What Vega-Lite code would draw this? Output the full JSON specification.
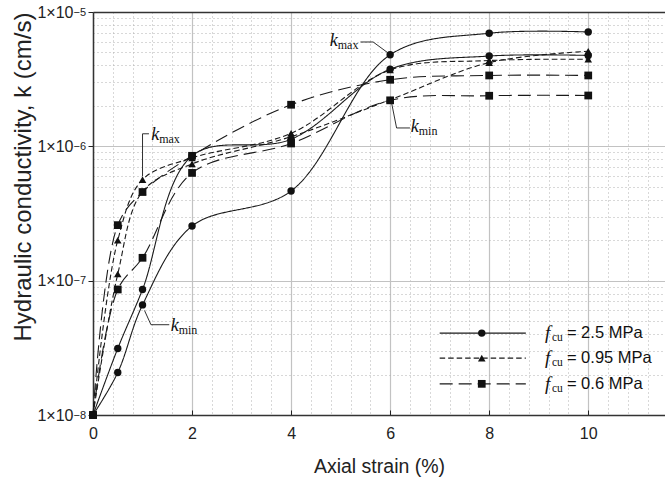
{
  "$schema": "https://vega.github.io/schema/vega-lite/v6.json",
  "width": 572,
  "height": 403,
  "autosize": {"type": "none"},
  "padding": {"left": 93, "top": 12, "right": 0, "bottom": 66},
  "background": "white",
  "config": {"view": {"stroke": null}, "font": "Liberation Sans"},
  "datasets": {
    "curves": [
      {"series": "2.5", "curve": "2.5a", "strain": 0, "k": 1e-8},
      {"series": "2.5", "curve": "2.5a", "strain": 0.5, "k": 2.07e-8},
      {"series": "2.5", "curve": "2.5a", "strain": 1, "k": 6.6e-8},
      {"series": "2.5", "curve": "2.5a", "strain": 2, "k": 2.55e-7},
      {"series": "2.5", "curve": "2.5a", "strain": 4, "k": 4.65e-7},
      {"series": "2.5", "curve": "2.5a", "strain": 6, "k": 4.8e-6},
      {"series": "2.5", "curve": "2.5a", "strain": 8, "k": 6.95e-6},
      {"series": "2.5", "curve": "2.5a", "strain": 10, "k": 7.1e-6},
      {"series": "2.5", "curve": "2.5b", "strain": 0, "k": 1e-8},
      {"series": "2.5", "curve": "2.5b", "strain": 0.5, "k": 3.13e-8},
      {"series": "2.5", "curve": "2.5b", "strain": 1, "k": 8.6e-8},
      {"series": "2.5", "curve": "2.5b", "strain": 2, "k": 8.5e-7},
      {"series": "2.5", "curve": "2.5b", "strain": 4, "k": 1.13e-6},
      {"series": "2.5", "curve": "2.5b", "strain": 6, "k": 3.75e-6},
      {"series": "2.5", "curve": "2.5b", "strain": 8, "k": 4.7e-6},
      {"series": "2.5", "curve": "2.5b", "strain": 10, "k": 4.75e-6},
      {"series": "0.95", "curve": "0.95a", "strain": 0, "k": 1e-8},
      {"series": "0.95", "curve": "0.95a", "strain": 0.5, "k": 2.0e-7},
      {"series": "0.95", "curve": "0.95a", "strain": 1, "k": 5.65e-7},
      {"series": "0.95", "curve": "0.95a", "strain": 2, "k": 8.2e-7},
      {"series": "0.95", "curve": "0.95a", "strain": 4, "k": 1.25e-6},
      {"series": "0.95", "curve": "0.95a", "strain": 6, "k": 3.7e-6},
      {"series": "0.95", "curve": "0.95a", "strain": 8, "k": 4.35e-6},
      {"series": "0.95", "curve": "0.95a", "strain": 10, "k": 4.45e-6},
      {"series": "0.95", "curve": "0.95b", "strain": 0, "k": 1e-8},
      {"series": "0.95", "curve": "0.95b", "strain": 0.5, "k": 1.12e-7},
      {"series": "0.95", "curve": "0.95b", "strain": 1, "k": 4.6e-7},
      {"series": "0.95", "curve": "0.95b", "strain": 2, "k": 7.4e-7},
      {"series": "0.95", "curve": "0.95b", "strain": 4, "k": 1.18e-6},
      {"series": "0.95", "curve": "0.95b", "strain": 6, "k": 2.22e-6},
      {"series": "0.95", "curve": "0.95b", "strain": 8, "k": 4.2e-6},
      {"series": "0.95", "curve": "0.95b", "strain": 10, "k": 5.1e-6},
      {"series": "0.6", "curve": "0.6a", "strain": 0, "k": 1e-8},
      {"series": "0.6", "curve": "0.6a", "strain": 0.5, "k": 2.59e-7},
      {"series": "0.6", "curve": "0.6a", "strain": 1, "k": 4.57e-7},
      {"series": "0.6", "curve": "0.6a", "strain": 2, "k": 8.5e-7},
      {"series": "0.6", "curve": "0.6a", "strain": 4, "k": 2.04e-6},
      {"series": "0.6", "curve": "0.6a", "strain": 6, "k": 3.13e-6},
      {"series": "0.6", "curve": "0.6a", "strain": 8, "k": 3.37e-6},
      {"series": "0.6", "curve": "0.6a", "strain": 10, "k": 3.37e-6},
      {"series": "0.6", "curve": "0.6b", "strain": 0, "k": 1e-8},
      {"series": "0.6", "curve": "0.6b", "strain": 0.5, "k": 8.6e-8},
      {"series": "0.6", "curve": "0.6b", "strain": 1, "k": 1.48e-7},
      {"series": "0.6", "curve": "0.6b", "strain": 2, "k": 6.34e-7},
      {"series": "0.6", "curve": "0.6b", "strain": 4, "k": 1.05e-6},
      {"series": "0.6", "curve": "0.6b", "strain": 6, "k": 2.2e-6},
      {"series": "0.6", "curve": "0.6b", "strain": 8, "k": 2.38e-6},
      {"series": "0.6", "curve": "0.6b", "strain": 10, "k": 2.39e-6}
    ],
    "leaders": [
      {"id": "kmax1", "o": 1, "strain": 1.0, "k": 6.0e-7},
      {"id": "kmax1", "o": 2, "strain": 1.0, "k": 1.24e-6},
      {"id": "kmax1", "o": 3, "strain": 1.13, "k": 1.24e-6},
      {"id": "kmin1", "o": 1, "strain": 1.04, "k": 6.0e-8},
      {"id": "kmin1", "o": 2, "strain": 1.17, "k": 4.7e-8},
      {"id": "kmin1", "o": 3, "strain": 1.54, "k": 4.7e-8},
      {"id": "kmax6", "o": 1, "strain": 5.4, "k": 5.98e-6},
      {"id": "kmax6", "o": 2, "strain": 5.657, "k": 5.98e-6},
      {"id": "kmax6", "o": 3, "strain": 5.96, "k": 4.95e-6},
      {"id": "kmin6", "o": 1, "strain": 6.03, "k": 2.1e-6},
      {"id": "kmin6", "o": 2, "strain": 6.13, "k": 1.37e-6},
      {"id": "kmin6", "o": 3, "strain": 6.4, "k": 1.37e-6}
    ],
    "notes": [
      {"sub": "max", "strain": 1.175, "k": 1.22e-6},
      {"sub": "min", "strain": 1.569, "k": 4.575e-8},
      {"sub": "max", "strain": 4.78, "k": 6.11e-6},
      {"sub": "min", "strain": 6.416, "k": 1.4e-6}
    ],
    "legend": [
      {"series": "2.5", "label": "= 2.5 MPa", "x1": 7.0, "x2": 8.74, "xm": 7.85, "xt": 9.125, "k": 4.07e-8},
      {"series": "0.95", "label": "= 0.95 MPa", "x1": 7.0, "x2": 8.74, "xm": 7.85, "xt": 9.125, "k": 2.65e-8},
      {"series": "0.6", "label": "= 0.6 MPa", "x1": 7.0, "x2": 8.74, "xm": 7.85, "xt": 9.125, "k": 1.706e-8}
    ]
  },
  "layer": [
    {
      "data": {"name": "curves"},
      "mark": {"type": "point", "opacity": 0},
      "encoding": {
        "x": {"field": "strain", "type": "quantitative", "scale": {"domain": [0, 11.55], "nice": false, "zero": false},
          "axis": {"orient": "bottom", "values": [0.4,0.8,1.2,1.6,2.4,2.8,3.2,3.6,4.4,4.8,5.2,5.6,6.4,6.8,7.2,7.6,8.4,8.8,9.2,9.6,10.4,10.8,11.2],
            "grid": true, "gridColor": "#b0b0b0", "gridDash": [1, 3], "gridWidth": 1, "labels": false, "ticks": false, "domain": false, "title": null}},
        "y": {"field": "k", "type": "quantitative", "scale": {"type": "log", "domain": [1e-8, 1e-5], "nice": false},
          "axis": {"orient": "left", "values": [2e-8,3e-8,4e-8,5e-8,6e-8,7e-8,8e-8,9e-8,2e-7,3e-7,4e-7,5e-7,6e-7,7e-7,8e-7,9e-7,2e-6,3e-6,4e-6,5e-6,6e-6,7e-6,8e-6,9e-6],
            "grid": true, "gridColor": "#b0b0b0", "gridDash": [1, 3], "gridWidth": 1, "labels": false, "ticks": false, "domain": false, "title": null}}
      }
    },
    {
      "data": {"name": "curves"},
      "mark": {"type": "point", "opacity": 0},
      "encoding": {
        "x": {"field": "strain", "type": "quantitative", "scale": {"domain": [0, 11.55], "nice": false, "zero": false},
          "axis": {"orient": "bottom", "values": [0, 2, 4, 6, 8, 10], "grid": true, "gridColor": "#c2c2c2", "gridWidth": 1.2,
            "ticks": true, "tickSize": -5, "tickColor": "#222", "domain": true, "domainColor": "#333", "domainWidth": 1.5,
            "labelFontSize": 16, "labelColor": "#222", "labelPadding": 15, "labelFlush": false, "format": "d",
            "title": "Axial strain (%)", "titleFontSize": 19.5, "titleFontWeight": "normal", "titleColor": "#222", "titlePadding": 16}},
        "y": {"field": "k", "type": "quantitative", "scale": {"type": "log", "domain": [1e-8, 1e-5], "nice": false},
          "axis": {"orient": "left", "values": [1e-8, 1e-7, 1e-6, 1e-5], "grid": true, "gridColor": "#c2c2c2", "gridWidth": 1.2,
            "ticks": true, "tickSize": 5, "tickColor": "#222", "domain": true, "domainColor": "#333", "domainWidth": 1.5,
            "labelExpr": "'1×10'", "labelFontSize": 16, "labelColor": "#222", "labelPadding": 15, "labelFlush": false,
            "title": "Hydraulic conductivity, k (cm/s)", "titleFontSize": 24, "titleFontWeight": "normal", "titleColor": "#222",
            "titlePadding": 1, "titleAnchor": "end"}}
      }
    },
    {
      "data": {"name": "curves"},
      "mark": {"type": "point", "opacity": 0},
      "encoding": {
        "x": {"field": "strain", "type": "quantitative", "scale": {"domain": [0, 11.55], "nice": false, "zero": false},
          "axis": {"orient": "top", "grid": false, "ticks": false, "labels": false, "domain": true, "domainColor": "#333", "domainWidth": 1.5, "title": null}},
        "y": {"field": "k", "type": "quantitative", "scale": {"type": "log", "domain": [1e-8, 1e-5], "nice": false},
          "axis": {"orient": "left", "values": [1e-8, 1e-7, 1e-6, 1e-5], "grid": false, "ticks": false, "domain": false,
            "labelExpr": "datum.value < 2e-8 ? '−8' : datum.value < 2e-7 ? '−7' : datum.value < 2e-6 ? '−6' : '−5'",
            "labelAlign": "left", "labelFontSize": 11, "labelColor": "#222", "labelPadding": 20, "labelDy": -6, "labelFlush": false, "title": null}}
      }
    },
    {
      "data": {"name": "curves"},
      "mark": {"type": "line", "interpolate": "catmull-rom", "stroke": "#1a1a1a", "strokeWidth": 1.1},
      "encoding": {
        "x": {"field": "strain", "type": "quantitative", "axis": null},
        "y": {"field": "k", "type": "quantitative", "axis": null},
        "detail": {"field": "curve"},
        "strokeDash": {"field": "series", "type": "nominal", "legend": null,
          "scale": {"domain": ["2.5", "0.95", "0.6"], "range": [[1, 0], [5.5, 3], [13, 6]]}}
      }
    },
    {
      "data": {"name": "curves"},
      "mark": {"type": "point", "filled": true, "color": "#111", "opacity": 1, "strokeWidth": 0},
      "encoding": {
        "x": {"field": "strain", "type": "quantitative", "axis": null},
        "y": {"field": "k", "type": "quantitative", "axis": null},
        "shape": {"field": "series", "type": "nominal", "legend": null,
          "scale": {"domain": ["2.5", "0.95", "0.6"], "range": ["circle", "triangle-up", "square"]}},
        "size": {"field": "series", "type": "nominal", "legend": null,
          "scale": {"domain": ["2.5", "0.95", "0.6"], "range": [55, 60, 60]}}
      }
    },
    {
      "data": {"name": "leaders"},
      "mark": {"type": "line", "stroke": "#1a1a1a", "strokeWidth": 0.9},
      "encoding": {
        "x": {"field": "strain", "type": "quantitative", "axis": null},
        "y": {"field": "k", "type": "quantitative", "axis": null},
        "detail": {"field": "id"},
        "order": {"field": "o", "type": "quantitative"}
      }
    },
    {
      "data": {"name": "notes"},
      "mark": {"type": "text", "text": "k", "font": "Liberation Serif", "fontStyle": "italic", "fontSize": 18, "align": "left", "baseline": "middle", "color": "#111"},
      "encoding": {
        "x": {"field": "strain", "type": "quantitative", "axis": null},
        "y": {"field": "k", "type": "quantitative", "axis": null}
      }
    },
    {
      "data": {"name": "notes"},
      "mark": {"type": "text", "font": "Liberation Serif", "fontSize": 12, "align": "left", "baseline": "middle", "dx": 8, "dy": 4, "color": "#111"},
      "encoding": {
        "x": {"field": "strain", "type": "quantitative", "axis": null},
        "y": {"field": "k", "type": "quantitative", "axis": null},
        "text": {"field": "sub"}
      }
    },
    {
      "data": {"name": "legend"},
      "mark": {"type": "rule", "stroke": "#1a1a1a", "strokeWidth": 1.1},
      "encoding": {
        "x": {"field": "x1", "type": "quantitative", "axis": null},
        "x2": {"field": "x2"},
        "y": {"field": "k", "type": "quantitative", "axis": null},
        "strokeDash": {"field": "series", "type": "nominal", "legend": null}
      }
    },
    {
      "data": {"name": "legend"},
      "mark": {"type": "point", "filled": true, "color": "#111", "opacity": 1, "strokeWidth": 0},
      "encoding": {
        "x": {"field": "xm", "type": "quantitative", "axis": null},
        "y": {"field": "k", "type": "quantitative", "axis": null},
        "shape": {"field": "series", "type": "nominal", "legend": null},
        "size": {"field": "series", "type": "nominal", "legend": null}
      }
    },
    {
      "data": {"name": "legend"},
      "mark": {"type": "text", "text": "f", "font": "Liberation Serif", "fontStyle": "italic", "fontSize": 19, "align": "left", "baseline": "middle", "color": "#111"},
      "encoding": {
        "x": {"field": "xt", "type": "quantitative", "axis": null},
        "y": {"field": "k", "type": "quantitative", "axis": null}
      }
    },
    {
      "data": {"name": "legend"},
      "mark": {"type": "text", "text": "cu", "font": "Liberation Serif", "fontSize": 11.5, "align": "left", "baseline": "middle", "dx": 7, "dy": 5, "color": "#111"},
      "encoding": {
        "x": {"field": "xt", "type": "quantitative", "axis": null},
        "y": {"field": "k", "type": "quantitative", "axis": null}
      }
    },
    {
      "data": {"name": "legend"},
      "mark": {"type": "text", "font": "Liberation Sans", "fontSize": 16.5, "align": "left", "baseline": "middle", "dx": 22, "color": "#111"},
      "encoding": {
        "x": {"field": "xt", "type": "quantitative", "axis": null},
        "y": {"field": "k", "type": "quantitative", "axis": null},
        "text": {"field": "label"}
      }
    }
  ],
  "resolve": {"axis": {"x": "independent", "y": "independent"}}
}
